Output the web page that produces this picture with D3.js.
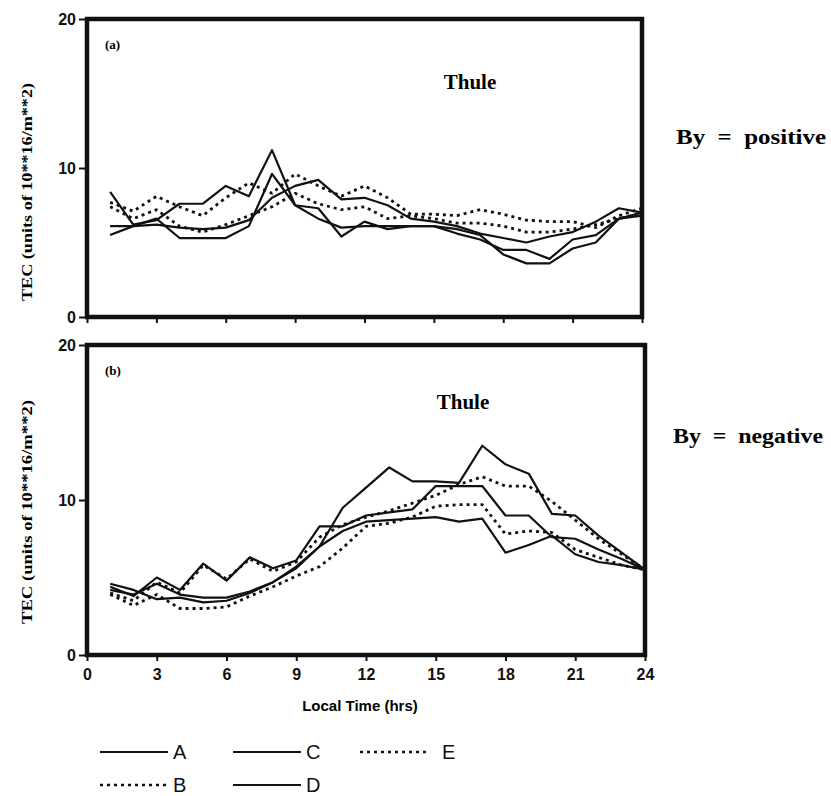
<!DOCTYPE html>
<html>
<head>
<meta charset="utf-8">
<script src="https://cdn.jsdelivr.net/npm/d3@7"></script>
<style>
  body { margin: 0; background: #fff; }
  svg { display: block; }
  .serif { font-family: "Liberation Serif", "Times New Roman", serif; font-weight: bold; }
  .narrow { font-family: "Liberation Sans Narrow", "Arial Narrow", "Liberation Sans", sans-serif; font-weight: bold; }
</style>
</head>
<body>
<div id="chart"></div>
<script>
// hours of the day, one point per hour
const hours = d3.range(1, 25);
const xTicks = [0, 3, 6, 9, 12, 15, 18, 21, 24];
const yTicks = [0, 10, 20];

// panel (a) By positive
const topA = [8.4, 6.2, 6.5, 7.6, 7.6, 8.8, 8.1, 11.2, 7.5, 7.3, 5.4, 6.4, 5.9, 6.1, 6.1, 5.9, 5.5, 4.2, 3.6, 3.6, 4.6, 5.0, 6.6, 7.0];
const topB = [7.7, 7.1, 8.1, 7.4, 6.8, 8.0, 9.0, 8.3, 9.6, 8.8, 8.1, 8.8, 8.0, 6.9, 6.9, 6.8, 7.2, 6.9, 6.5, 6.4, 6.4, 6.0, 6.8, 7.3];
const topC = [5.5, 6.1, 6.6, 5.3, 5.3, 5.3, 6.1, 9.6, 7.5, 6.6, 6.0, 6.1, 6.1, 6.1, 6.1, 5.6, 5.2, 4.5, 4.5, 3.9, 5.2, 5.5, 6.6, 6.8];
const topD = [6.1, 6.1, 6.2, 6.0, 5.9, 6.0, 6.5, 8.0, 8.8, 9.2, 7.9, 8.0, 7.5, 6.6, 6.4, 6.1, 5.6, 5.3, 5.0, 5.4, 5.7, 6.4, 7.3, 7.0];
const topE = [7.4, 6.6, 7.2, 6.1, 5.7, 6.2, 6.8, 7.4, 8.3, 7.6, 7.2, 7.4, 6.6, 6.8, 6.6, 6.3, 6.3, 6.1, 5.7, 5.7, 5.9, 6.2, 6.6, 7.0];

// panel (b) By negative
const botA = [4.4, 3.8, 5.0, 4.2, 5.9, 4.8, 6.3, 5.6, 6.1, 8.3, 8.3, 9.0, 9.2, 9.4, 10.9, 10.9, 10.9, 9.0, 9.0, 7.6, 7.5, 6.8, 6.2, 5.5];
const botB = [4.0, 3.5, 4.7, 4.0, 5.8, 4.9, 6.2, 5.4, 6.0, 7.6, 8.4, 8.9, 9.3, 9.8, 10.3, 11.0, 11.5, 10.9, 10.9, 9.9, 8.7, 7.5, 6.5, 5.5];
const botC = [4.2, 3.9, 4.6, 3.9, 3.7, 3.7, 4.1, 4.7, 5.6, 7.0, 9.5, 10.8, 12.1, 11.2, 11.2, 11.1, 13.5, 12.3, 11.7, 9.1, 9.0, 7.7, 6.6, 5.5];
const botD = [4.6, 4.2, 3.6, 3.7, 3.4, 3.5, 4.0, 4.7, 5.7, 7.0, 8.0, 8.6, 8.7, 8.8, 8.9, 8.6, 8.8, 6.6, 7.1, 7.7, 6.5, 6.0, 5.8, 5.5];
const botE = [3.9, 3.2, 3.9, 3.0, 3.0, 3.1, 3.8, 4.4, 5.1, 5.7, 6.9, 8.3, 8.5, 8.9, 9.6, 9.7, 9.7, 7.8, 8.0, 7.9, 6.8, 6.3, 5.8, 5.5];

const seriesNames = ["A", "B", "C", "D", "E"];
const dashes = { A: null, B: "3,4", C: null, D: null, E: "3,4" };

const svg = d3.select("#chart").append("svg")
  .attr("width", 831)
  .attr("height", 796);

function drawPanel(opts) {
  const x = d3.scaleLinear().domain([0, 24]).range([opts.left, opts.right]);
  const y = d3.scaleLinear().domain([0, 20]).range([opts.bottom, opts.top]);
  const g = svg.append("g");

  // box frame
  g.append("rect")
    .attr("x", x(0)).attr("y", y(20))
    .attr("width", x(24) - x(0)).attr("height", y(0) - y(20))
    .attr("fill", "none").attr("stroke", "#111").attr("stroke-width", 4.5);

  // left axis
  const yAxis = g.append("g")
    .attr("transform", `translate(${x(0)},0)`)
    .call(d3.axisLeft(y).tickValues(yTicks).tickSize(8).tickPadding(3));
  yAxis.select(".domain").remove();
  yAxis.selectAll("line").attr("stroke", "#111").attr("stroke-width", 2);
  yAxis.selectAll("text").attr("class", "narrow").style("font-size", "16px").attr("fill", "#111");

  // bottom axis
  const xAxis = g.append("g")
    .attr("transform", `translate(0,${y(0)})`)
    .call(d3.axisBottom(x).tickValues(xTicks).tickSize(6).tickPadding(8));
  xAxis.select(".domain").remove();
  xAxis.selectAll("line").attr("stroke", "#111").attr("stroke-width", 2);
  if (opts.labels) {
    xAxis.selectAll("text").attr("class", "narrow").style("font-size", "16px").attr("fill", "#111");
  } else {
    xAxis.selectAll("text").remove();
  }

  const line = d3.line()
    .x((d, i) => x(hours[i]))
    .y(d => y(d));

  seriesNames.forEach((name, k) => {
    g.append("path")
      .datum(opts.data[k])
      .attr("d", line)
      .attr("fill", "none")
      .attr("stroke", "#111")
      .attr("stroke-width", dashes[name] ? 2.8 : 2.2)
      .attr("stroke-dasharray", dashes[name])
      .attr("stroke-linejoin", "round");
  });

  g.append("text").attr("class", "serif")
    .attr("x", x(0) + 18).attr("y", y(20) + 30)
    .style("font-size", "13px").text(opts.tag);

  g.append("text").attr("class", "serif")
    .attr("x", opts.thuleX).attr("y", opts.thuleY)
    .style("font-size", "21px").attr("text-anchor", "middle").text("Thule");

  g.append("text").attr("class", "serif")
    .attr("x", opts.byX).attr("y", opts.byY)
    .attr("textLength", 150).attr("lengthAdjust", "spacingAndGlyphs")
    .style("font-size", "20px").style("white-space", "pre").text(opts.byText);

  g.append("text").attr("class", "serif")
    .attr("transform", `translate(32,${opts.labelY}) rotate(-90)`)
    .attr("text-anchor", "middle")
    .attr("textLength", opts.labelLen).attr("lengthAdjust", "spacingAndGlyphs")
    .style("font-size", "14px")
    .text("TEC (units of 10**16/m**2)");
}

drawPanel({
  left: 87, right: 642, top: 19, bottom: 317,
  data: [topA, topB, topC, topD, topE],
  tag: "(a)", thuleX: 470, thuleY: 89,
  byText: "By  =  positive", byX: 676, byY: 144,
  labelY: 192, labelLen: 218, labels: false
});

drawPanel({
  left: 87, right: 645, top: 345, bottom: 655,
  data: [botA, botB, botC, botD, botE],
  tag: "(b)", thuleX: 463, thuleY: 409,
  byText: "By  =  negative", byX: 673, byY: 443,
  labelY: 512, labelLen: 224, labels: true
});

// x axis title
svg.append("text").attr("class", "narrow")
  .attr("x", 360).attr("y", 711)
  .attr("text-anchor", "middle")
  .style("font-size", "15px")
  .text("Local Time (hrs)");

// legend
const legendRows = [
  { name: "A", x: 100, y: 752 },
  { name: "C", x: 233, y: 752 },
  { name: "E", x: 360, y: 752 },
  { name: "B", x: 100, y: 785 },
  { name: "D", x: 233, y: 785 }
];
const legend = svg.append("g");
legendRows.forEach(r => {
  legend.append("line")
    .attr("x1", r.x).attr("x2", r.x + 68)
    .attr("y1", r.y).attr("y2", r.y)
    .attr("stroke", "#111")
    .attr("stroke-width", dashes[r.name] ? 2.6 : 2.2)
    .attr("stroke-dasharray", dashes[r.name] ? "3,4" : null);
  legend.append("text")
    .attr("x", r.x + (r.name === "E" ? 82 : 73)).attr("y", r.y + 7)
    .style("font-family", "'Liberation Sans', Arial, sans-serif")
    .style("font-size", "20px").attr("fill", "#111")
    .text(r.name);
});
</script>
</body>
</html>
